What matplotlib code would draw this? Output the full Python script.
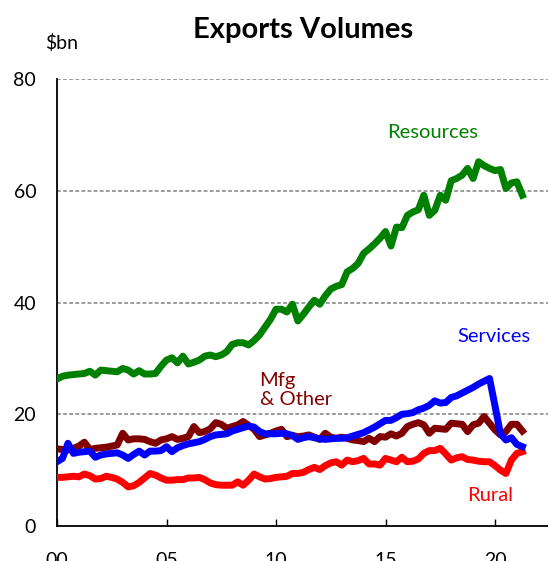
import numpy as np
import matplotlib
matplotlib.use('Agg')
import matplotlib.pyplot as plt

plt.rcParams['font.family'] = ['Lato', 'DejaVu Sans']

# quarterly, years since 2000 (2000 Q1 .. 2021 Q2)
quarters = np.arange(86) / 4.0

resources = [26.3, 26.8, 27.0, 27.1, 27.2, 27.3, 27.7, 27.0, 27.9, 27.8,
             27.7, 27.6, 28.2, 27.9, 27.2, 27.8, 27.2, 27.2, 27.3, 28.6,
             29.7, 30.1, 29.2, 30.4, 29.0, 29.3, 29.7, 30.4, 30.6, 30.3,
             30.6, 31.2, 32.5, 32.8, 32.8, 32.4, 33.2, 34.2, 35.6, 37.0,
             38.8, 38.8, 38.3, 39.7, 36.7, 37.9, 39.2, 40.4, 39.7, 41.2,
             42.4, 42.9, 43.2, 45.5, 46.1, 47.0, 48.8, 49.6, 50.5, 51.5,
             52.7, 50.1, 53.5, 53.4, 55.6, 56.2, 56.6, 59.2, 55.6, 56.5,
             59.2, 58.3, 61.8, 62.2, 62.8, 64.0, 62.2, 65.2, 64.5, 64.0,
             63.6, 63.8, 60.4, 61.4, 61.6, 59.2]

mfg_other = [13.8, 13.7, 13.6, 13.9, 14.3, 15.0, 13.7, 13.9, 14.0, 14.1,
             14.3, 14.5, 16.6, 15.4, 15.6, 15.6, 15.5, 15.1, 14.8, 15.4,
             15.6, 16.0, 15.5, 15.7, 16.0, 17.8, 16.7, 16.9, 17.4, 18.5,
             18.2, 17.5, 17.8, 18.1, 18.7, 18.0, 17.3, 16.0, 16.3, 16.6,
             17.0, 17.3, 16.0, 16.2, 16.0, 16.1, 16.3, 15.9, 15.5, 16.6,
             15.9, 15.7, 15.9, 15.7, 15.4, 15.3, 15.1, 15.7, 15.1, 16.0,
             15.9, 16.5, 16.1, 16.6, 17.8, 18.2, 18.5, 18.1, 16.6, 17.5,
             17.4, 17.3, 18.4, 18.3, 18.2, 16.9, 18.1, 18.4, 19.6, 18.4,
             17.2, 16.3, 16.9, 18.2, 18.2, 17.0]

services = [11.5, 12.1, 14.8, 13.0, 13.2, 13.3, 13.4, 12.3, 12.7, 12.9,
            13.0, 13.1, 12.7, 12.1, 12.8, 13.4, 12.7, 13.4, 13.4, 13.5,
            14.2, 13.3, 14.0, 14.4, 14.7, 14.9, 15.1, 15.5, 16.0, 16.3,
            16.4, 16.5, 17.0, 17.3, 17.6, 17.9, 17.7, 16.9, 16.5, 16.5,
            16.5, 16.6, 16.5, 16.2, 15.5, 15.8, 16.0, 15.8, 15.6, 15.5,
            15.6, 15.7, 15.7, 15.8, 16.1, 16.4, 16.7, 17.2, 17.7, 18.3,
            18.9, 18.9, 19.4, 20.0, 20.1, 20.3, 20.8, 21.1, 21.6, 22.4,
            22.0, 22.1, 23.0, 23.3, 23.8, 24.3, 24.8, 25.4, 25.9, 26.4,
            21.5, 16.5, 15.4, 15.8, 14.6, 14.2]

rural = [8.7, 8.7, 8.8, 8.9, 8.8, 9.3, 9.0, 8.4, 8.5, 8.9,
         8.7, 8.4, 7.8, 7.0, 7.2, 7.8, 8.6, 9.4, 9.1, 8.6,
         8.2, 8.2, 8.3, 8.3, 8.6, 8.6, 8.7, 8.3, 7.7, 7.4,
         7.3, 7.3, 7.3, 7.9, 7.3, 8.2, 9.3, 8.8, 8.4, 8.5,
         8.7, 8.8, 8.9, 9.4, 9.4, 9.6, 10.1, 10.5, 10.1, 10.8,
         11.3, 11.5, 10.9, 11.8, 11.5, 11.7, 12.1, 11.1, 11.1, 10.9,
         12.1, 11.8, 11.5, 12.3, 11.5, 11.6, 12.0, 13.0, 13.5, 13.5,
         13.9, 12.9, 11.8, 12.2, 12.4, 11.9, 11.8, 11.6, 11.5, 11.5,
         10.8, 10.0, 9.4, 11.8, 13.0, 13.3]

x_ticks = [0, 5, 10, 15, 20]
x_labels = ['00', '05', '10', '15', '20']
y_ticks = [0, 20, 40, 60, 80]

fig = plt.figure(figsize=(5.48, 5.61), dpi=100)
ax = fig.add_axes([57 / 548, 35 / 561, 1 - 57 / 548, 447 / 561])

for yv in y_ticks[1:]:
    ax.axhline(yv, color='#808080', linewidth=1.1, linestyle=(0, (2.5, 1.5)), zorder=1)

lw = 5
ax.plot(quarters, resources, color='#008000', linewidth=lw, solid_joinstyle='round', zorder=3)
ax.plot(quarters, mfg_other, color='#800000', linewidth=lw, solid_joinstyle='round', zorder=3)
ax.plot(quarters, services, color='#0000FF', linewidth=lw, solid_joinstyle='round', zorder=4)
ax.plot(quarters, rural, color='#FF0000', linewidth=lw, solid_joinstyle='round', zorder=3)

ax.text(17.15, 70.5, 'Resources', color='#008000', fontsize=14.5, ha='center', va='center')
ax.text(19.95, 34.0, 'Services', color='#0000FF', fontsize=14.5, ha='center', va='center')
ax.text(9.25, 24.4, 'Mfg\n& Other', color='#800000', fontsize=14.5, ha='left', va='center',
        linespacing=1.15)
ax.text(19.8, 5.5, 'Rural', color='#FF0000', fontsize=14.5, ha='center', va='center')

ax.set_xlim(0, 22.42)
ax.set_ylim(0, 80)
ax.set_xticks(x_ticks)
ax.set_xticklabels(x_labels)
ax.set_yticks(y_ticks)
ax.tick_params(axis='x', direction='in', length=5, width=1, pad=19, labelsize=14)
ax.tick_params(axis='y', length=0, pad=15, labelsize=14)

for side in ['top', 'right']:
    ax.spines[side].set_visible(False)
for side in ['left', 'bottom']:
    ax.spines[side].set_linewidth(1.3)

fig.text(303 / 548, 1 - 30 / 561, 'Exports Volumes', fontsize=21, fontweight='bold',
         ha='center', va='center')
fig.text(45 / 548, 1 - 43 / 561, '$bn', fontsize=14, ha='left', va='center')

fig.savefig('out.png', dpi=100)
